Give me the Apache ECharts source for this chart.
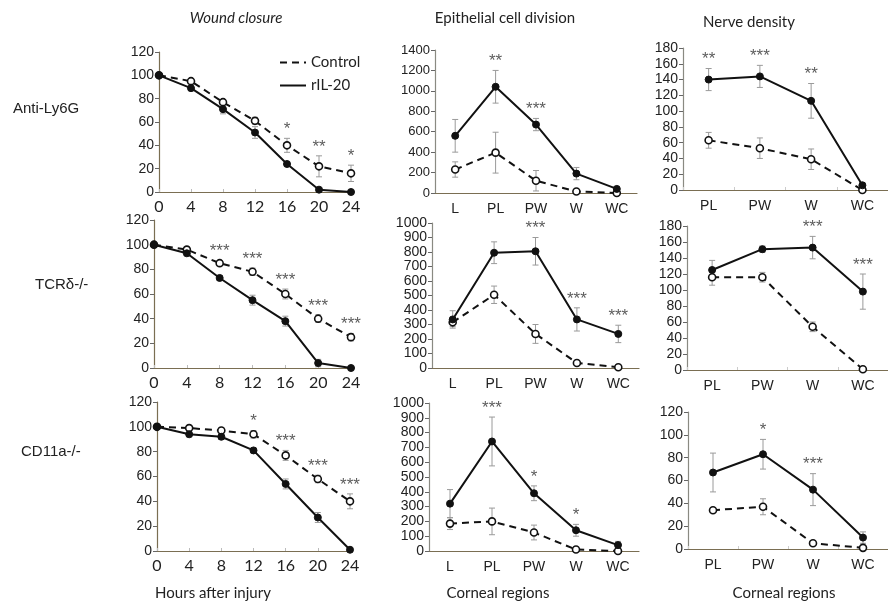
<!DOCTYPE html>
<html>
<head>
<meta charset="utf-8">
<script src="https://cdn.jsdelivr.net/npm/echarts@6/dist/echarts.min.js"></script>
<style>
  html, body { margin: 0; padding: 0; background: #fff; }
  #chart { width: 888px; height: 604px; }
</style>
</head>
<body>
<div id="chart"></div>
<script>
// data (rows: Anti-Ly6G, TCRδ-/-, CD11a-/-)
const hours = [0, 4, 8, 12, 16, 20, 24];
const regions5 = ['L', 'PL', 'PW', 'W', 'WC'];
const regions4 = ['PL', 'PW', 'W', 'WC'];
const rowLabels = ['Anti-Ly6G', 'TCRδ-/-', 'CD11a-/-'];

const woundRil = [[100, 89, 71, 51, 24, 2, 0], [100, 93, 73, 55, 38, 4, 0], [100, 94, 92, 81, 54, 27, 1]];
const woundRilErr = [[1, 2, 4, 5, 2, 1, 1], [1, 2, 2, 4, 4, 3, 1], [1, 2, 2, 2, 4, 4, 1]];
const woundCtl = [[100, 95, 77, 61, 40, 22, 16], [100, 96, 85, 78, 60, 40, 25], [100, 99, 97, 94, 77, 58, 40]];
const woundCtlErr = [[1, 2, 2, 3, 6, 9, 7], [1, 2, 2, 3, 4, 3, 3], [1, 1, 2, 3, 4, 3, 6]];
const woundStars = [['', '', '', '', '*', '**', '*'], ['', '', '***', '***', '***', '***', '***'], ['', '', '', '*', '***', '***', '***']];

const epiRil = [[560, 1040, 670, 190, 40], [335, 795, 805, 335, 235], [320, 740, 390, 140, 40]];
const epiRilErr = [[160, 160, 60, 60, 20], [60, 75, 95, 80, 60], [95, 165, 50, 40, 25]];
const epiCtl = [[230, 395, 120, 15, 0], [315, 505, 235, 35, 5], [185, 200, 125, 10, 0]];
const epiCtlErr = [[75, 200, 100, 10, 5], [30, 60, 65, 10, 5], [40, 90, 50, 10, 5]];
const epiStars = [['', '**', '***', '', ''], ['', '', '***', '***', '***'], ['', '***', '*', '*', '']];

const nerRil = [[140, 144, 113, 6], [125, 151, 153, 98], [67, 83, 52, 10]];
const nerRilErr = [[14, 14, 22, 3], [12, 4, 14, 22], [17, 13, 14, 5]];
const nerCtl = [[63, 53, 39, 0], [116, 116, 54, 1], [34, 37, 5, 1]];
const nerCtlErr = [[10, 13, 13, 1], [10, 6, 6, 1], [2, 7, 2, 1]];
const nerStars = [['**', '***', '**', ''], ['', '', '***', '***'], ['', '*', '***', '']];

const yMax = [[120, 1400, 180], [120, 1000, 180], [120, 1000, 120]];
const yStep = [[20, 200, 20], [20, 100, 20], [20, 100, 20]];

// panel boxes in pixels [left, top, width, height]
const boxes = [
  [[159, 52, 192, 140], [435, 50, 202, 143], [683, 48, 210, 142]],
  [[154, 220, 197, 148], [432, 223, 207, 145], [687, 226, 203, 144]],
  [[157, 402, 193, 149], [429, 403, 210, 148], [688, 412, 200, 137]]
];

const axisColor = '#7a6e52';
const chart = echarts.init(document.getElementById('chart'));

const grid = [], xAxis = [], yAxis = [], series = [];

function errorSeries(idx, pts) {
  return {
    type: 'custom', xAxisIndex: idx, yAxisIndex: idx, z: 1, silent: true,
    name: 'err' + idx + series.length,
    data: pts,
    encode: { x: 0, y: 1 },
    renderItem: function (params, api) {
      const x = api.value(0), v = api.value(1), e = api.value(2);
      const lo = api.coord([x, Math.max(0, v - e)]);
      const hi = api.coord([x, v + e]);
      const st = { stroke: '#9a9a9a', lineWidth: 1 };
      return {
        type: 'group', children: [
          { type: 'line', shape: { x1: lo[0], y1: lo[1], x2: hi[0], y2: hi[1] }, style: st },
          { type: 'line', shape: { x1: hi[0] - 3, y1: hi[1], x2: hi[0] + 3, y2: hi[1] }, style: st },
          { type: 'line', shape: { x1: lo[0] - 3, y1: lo[1], x2: lo[0] + 3, y2: lo[1] }, style: st }
        ]
      };
    }
  };
}

function addPanel(r, c, cats, ril, rilErr, ctl, ctlErr, stars) {
  const idx = grid.length;
  const b = boxes[r][c];
  grid.push({ left: b[0], top: b[1], width: b[2], height: b[3], containLabel: false });
  const isWound = c === 0;
  if (isWound) {
    xAxis.push({
      gridIndex: idx, type: 'value', min: 0, max: 24, interval: 4,
      axisLine: { lineStyle: { color: axisColor, width: 1.2 } },
      axisTick: { show: true, length: 3, inside: true, lineStyle: { color: '#bbb' } },
      splitLine: { show: false },
      axisLabel: { fontFamily: 'Lato', fontSize: 16, color: '#222', margin: 7 }
    });
  } else {
    xAxis.push({
      gridIndex: idx, type: 'category', data: cats, boundaryGap: true,
      axisLine: { lineStyle: { color: axisColor, width: 1.2 } },
      axisTick: { show: c === 2, length: 3, inside: true, lineStyle: { color: '#ccc' } },
      axisLabel: { fontFamily: 'Liberation Sans', fontSize: 14, color: '#222', margin: 9 }
    });
  }
  yAxis.push({
    gridIndex: idx, type: 'value', min: 0, max: yMax[r][c], interval: yStep[r][c],
    axisLine: { show: true, lineStyle: { color: c === 0 ? axisColor : '#8a8a82', width: 1.2 } },
    axisTick: { show: true, length: 4, lineStyle: { color: '#666' } },
    splitLine: { show: false },
    axisLabel: {
      fontFamily: 'Liberation Sans', fontSize: c === 1 && r === 0 ? 13 : 14, color: '#222', margin: 5,
      formatter: v => String(v)
    }
  });
  const xs = isWound ? hours : cats.map((_, i) => i);
  series.push(errorSeries(idx, xs.map((x, i) => [x, ctl[i], ctlErr[i]])));
  series.push(errorSeries(idx, xs.map((x, i) => [x, ril[i], rilErr[i]])));
  series.push({
    name: 'Control', type: 'line', xAxisIndex: idx, yAxisIndex: idx, z: 3,
    data: xs.map((x, i) => [x, ctl[i]]),
    symbol: 'circle', symbolSize: 7, showAllSymbol: true,
    lineStyle: { color: '#111', width: 2, type: [7, 5] },
    itemStyle: { color: '#fff', borderColor: '#111', borderWidth: 1.6 },
    emphasis: { disabled: true }
  });
  series.push({
    name: 'rIL-20', type: 'line', xAxisIndex: idx, yAxisIndex: idx, z: 4,
    data: xs.map((x, i) => [x, ril[i]]),
    symbol: 'circle', symbolSize: 7, showAllSymbol: true,
    lineStyle: { color: '#111', width: 2 },
    itemStyle: { color: '#111', borderColor: '#111', borderWidth: 1 },
    emphasis: { disabled: true }
  });
  const starPts = [];
  xs.forEach((x, i) => {
    if (stars[i]) starPts.push([x, Math.max(ril[i] + rilErr[i], ctl[i] + ctlErr[i]), stars[i]]);
  });
  series.push({
    name: 'stars' + idx, type: 'scatter', xAxisIndex: idx, yAxisIndex: idx, z: 5,
    data: starPts, symbolSize: 1, itemStyle: { color: 'rgba(0,0,0,0)' }, silent: true,
    label: {
      show: true, position: 'top', distance: 0,
      formatter: p => p.data[2],
      fontFamily: 'Liberation Sans', fontSize: 17, color: '#333', letterSpacing: 1
    }
  });
}

for (let r = 0; r < 3; r++) {
  addPanel(r, 0, hours, woundRil[r], woundRilErr[r], woundCtl[r], woundCtlErr[r], woundStars[r]);
  addPanel(r, 1, regions5, epiRil[r], epiRilErr[r], epiCtl[r], epiCtlErr[r], epiStars[r]);
  addPanel(r, 2, regions4, nerRil[r], nerRilErr[r], nerCtl[r], nerCtlErr[r], nerStars[r]);
}

function txt(x, y, text, font, align) {
  return {
    type: 'text', x: x, y: y, silent: true,
    style: { text: text, font: font, fill: '#222', align: align || 'center', verticalAlign: 'middle' }
  };
}

const graphic = [
  txt(236, 18, 'Wound closure', 'italic 15px Lato'),
  txt(505, 18, 'Epithelial cell division', '15px Lato'),
  txt(749, 22, 'Nerve density', '15px Lato'),
  txt(13, 109, rowLabels[0], '15px "Liberation Sans"', 'left'),
  txt(35, 285, rowLabels[1], '15px "Liberation Sans"', 'left'),
  txt(21, 452, rowLabels[2], '15px "Liberation Sans"', 'left'),
  txt(213, 593, 'Hours after injury', '15px Lato'),
  txt(498, 593, 'Corneal regions', '15px Lato'),
  txt(784, 593, 'Corneal regions', '15px Lato')
];

chart.setOption({
  animation: false,
  backgroundColor: '#fff',
  grid: grid,
  xAxis: xAxis,
  yAxis: yAxis,
  series: series,
  graphic: graphic,
  legend: {
    data: ['Control', 'rIL-20'],
    orient: 'vertical', left: 274, top: 50, itemWidth: 26, itemHeight: 10, itemGap: 8,
    selectedMode: false,
    itemStyle: { opacity: 0 },
    textStyle: { fontFamily: 'Lato', fontSize: 15, color: '#222' }
  }
});
</script>
</body>
</html>
